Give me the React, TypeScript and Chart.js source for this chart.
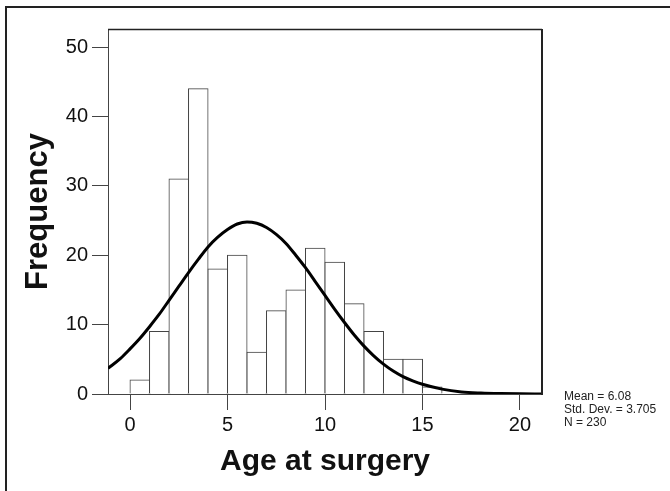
import React, { useEffect, useRef } from "react";
import { Chart, registerables } from "chart.js";

Chart.register(...registerables);

// ---- data ----
const binStarts = [0, 1, 2, 3, 4, 5, 6, 7, 8, 9, 10, 11, 12, 13, 14, 15];
const binCounts = [2, 9, 31, 44, 18, 20, 6, 12, 15, 21, 19, 13, 9, 5, 5, 1];
const binWidth = 1;

const curveX = [-1.13, -0.5, 0, 0.5, 1, 1.5, 2, 2.5, 3, 3.5, 4, 4.5, 5, 5.5, 6, 6.5, 7, 7.5, 8, 8.5, 9, 9.5, 10, 10.5, 11, 11.5, 12, 12.5, 13, 13.5, 14, 14.5, 15, 16, 17, 18, 19, 20, 21.13];
const curveY = [3.7, 5.1, 6.5, 8.0, 9.7, 11.5, 13.5, 15.5, 17.5, 19.4, 21.2, 22.6, 23.7, 24.5, 24.8, 24.6, 24.0, 23.0, 21.7, 20.0, 18.2, 16.2, 14.2, 12.2, 10.3, 8.5, 6.9, 5.5, 4.3, 3.3, 2.5, 1.9, 1.4, 0.7, 0.3, 0.14, 0.06, 0.02, 0];

const xTicks = [0, 5, 10, 15, 20];
const yTicks = [0, 10, 20, 30, 40, 50];
const X_MIN = -1.13;
const X_MAX = 21.13;
const Y_MAX = 52.6;

const xTitle = "Age at surgery";
const yTitle = "Frequency";
const statLines = ["Mean = 6.08", "Std. Dev. = 3.705", "N = 230"];

const FONT = '"Liberation Sans", Arial, sans-serif';

const framePlugin = {
  id: "frame",
  afterDraw(chart: any) {
    const { ctx, chartArea } = chart;
    const { left, right, top, bottom } = chartArea;
    ctx.save();
    ctx.strokeStyle = "#222";
    ctx.lineWidth = 1.5;
    ctx.beginPath();
    ctx.moveTo(left, top + 0.5);
    ctx.lineTo(right, top + 0.5);
    ctx.stroke();
    ctx.lineWidth = 2;
    ctx.beginPath();
    ctx.moveTo(right, top);
    ctx.lineTo(right, bottom + 1);
    ctx.stroke();
    ctx.font = "12px " + FONT;
    ctx.fillStyle = "#222";
    ctx.textAlign = "left";
    ctx.textBaseline = "alphabetic";
    statLines.forEach((t, i) => {
      ctx.fillText(t, right + 22, bottom + 6 + i * 13);
    });
    ctx.restore();
  },
};

export default function App() {
  const ref = useRef<HTMLCanvasElement | null>(null);

  useEffect(() => {
    if (!ref.current) return;
    Chart.defaults.font.family = FONT;
    const chart = new Chart(ref.current, {
      type: "bar",
      data: {
        datasets: [
          {
            type: "line",
            data: curveX.map((x, i) => ({ x, y: curveY[i] })),
            borderColor: "#000",
            borderWidth: 3,
            pointRadius: 0,
            cubicInterpolationMode: "monotone",
            fill: false,
            order: 0,
          } as any,
          {
            type: "bar",
            data: binStarts.map((s, i) => ({ x: s + binWidth / 2, y: binCounts[i] })),
            backgroundColor: "#fff",
            borderColor: "#444",
            borderWidth: 1,
            inflateAmount: 0.5,
            barPercentage: 1,
            categoryPercentage: 1,
            order: 1,
          } as any,
        ],
      },
      options: {
        animation: false,
        responsive: false,
        events: [],
        layout: { padding: { left: 0, top: 29, right: 128, bottom: 0 } },
        plugins: { legend: { display: false }, tooltip: { enabled: false } },
        scales: {
          x: {
            type: "linear",
            min: X_MIN,
            max: X_MAX,
            offset: false,
            afterBuildTicks: (s: any) => {
              s.ticks = xTicks.map((v) => ({ value: v }));
            },
            afterFit: (s: any) => {
              s.height = 97;
            },
            ticks: {
              font: { size: 20 },
              color: "#111",
              padding: 3,
              maxRotation: 0,
              autoSkip: false,
            },
            grid: {
              offset: false,
              drawOnChartArea: false,
              drawTicks: true,
              tickLength: 16,
              color: "#444",
              lineWidth: 1,
            },
            border: { display: true, color: "#444", width: 1 },
            title: {
              display: true,
              text: xTitle,
              color: "#111",
              font: { size: 30, weight: "bold" },
              padding: { top: 0, bottom: 11 },
            },
          },
          y: {
            type: "linear",
            min: 0,
            max: Y_MAX,
            afterBuildTicks: (s: any) => {
              s.ticks = yTicks.map((v) => ({ value: v }));
            },
            afterFit: (s: any) => {
              s.width = 108;
            },
            ticks: {
              font: { size: 20 },
              color: "#111",
              padding: 4,
              autoSkip: false,
            },
            grid: {
              drawOnChartArea: false,
              drawTicks: true,
              tickLength: 16,
              color: "#444",
              lineWidth: 1,
            },
            border: { display: true, color: "#444", width: 1 },
            title: {
              display: true,
              text: yTitle,
              color: "#111",
              font: { size: 31, weight: "bold" },
              padding: { top: 20, bottom: 0 },
            },
          },
        },
      },
      plugins: [framePlugin],
    } as any);
    return () => chart.destroy();
  }, []);

  return (
    <div style={{ position: "fixed", left: 0, top: 0, width: 670, height: 491, background: "#fff", overflow: "hidden" }}>
      <div
        style={{
          position: "absolute",
          left: 5,
          top: 6,
          width: 720,
          height: 560,
          borderLeft: "2px solid #222",
          borderTop: "2px solid #222",
        }}
      />
      <canvas ref={ref} width={670} height={491} style={{ position: "absolute", left: 0, top: 0 }} />
    </div>
  );
}
